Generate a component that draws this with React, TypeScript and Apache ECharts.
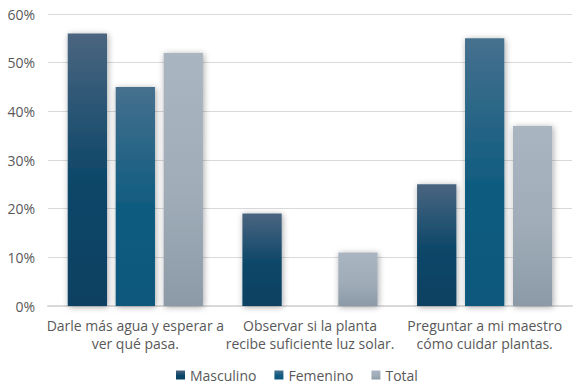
import React, { useEffect, useRef } from "react";
import * as echarts from "echarts";

const categories = [
  "Darle más agua y esperar a\nver qué pasa.",
  "Observar si la planta\nrecibe suficiente luz solar.",
  "Preguntar a mi maestro\ncómo cuidar plantas.",
];
const masculino = [56, 19, 25];
const femenino = [45, 0, 55];
const total = [52, 11, 37];
const yTicks = [0, 10, 20, 30, 40, 50, 60];

const grad = (top: string, mid: string, bottom: string) =>
  new echarts.graphic.LinearGradient(0, 0, 0, 1, [
    { offset: 0, color: top },
    { offset: 0.55, color: mid },
    { offset: 1, color: bottom },
  ]);

export default function App() {
  const ref = useRef<HTMLDivElement>(null);
  useEffect(() => {
    if (!ref.current) return;
    const chart = echarts.init(ref.current, undefined, { renderer: "svg" });
    const font = "'Open Sans', 'Noto Sans', sans-serif";
    const shadow = { shadowBlur: 6, shadowColor: "rgba(0,0,0,0.35)", shadowOffsetX: 1, shadowOffsetY: 1 };
    chart.setOption({
      animation: false,
      textStyle: { fontFamily: font },
      grid: { left: 48, right: 6, top: 14, bottom: 86, containLabel: false },
      legend: {
        bottom: 5,
        left: 171,
        itemWidth: 9,
        itemHeight: 9,
        itemGap: 18,
        icon: "rect",
        textStyle: { color: "#595959", fontSize: 14, fontFamily: font },
        data: ["Masculino", "Femenino", "Total"],
      },
      xAxis: {
        type: "category",
        data: categories,
        axisTick: { show: false },
        axisLine: { lineStyle: { color: "#d9d9d9", width: 2 } },
        axisLabel: {
          color: "#595959",
          fontSize: 14,
          lineHeight: 18,
          margin: 10,
          interval: 0,
          fontFamily: font,
        },
      },
      yAxis: {
        type: "value",
        min: 0,
        max: 60,
        interval: 10,
        axisLine: { show: false },
        axisTick: { show: false },
        splitLine: { lineStyle: { color: "#d9d9d9", width: 1 } },
        axisLabel: {
          color: "#595959",
          fontSize: 14,
          margin: 13,
          fontFamily: font,
          formatter: (v: number) => (yTicks.includes(v) ? v + "%" : ""),
        },
      },
      series: [
        {
          name: "Masculino",
          type: "bar",
          data: masculino,
          barWidth: "22.5%",
          barGap: "22%",
          itemStyle: { color: grad("#4a6580", "#0b4668", "#074163"), ...shadow },
        },
        {
          name: "Femenino",
          type: "bar",
          data: femenino,
          barWidth: "22.5%",
          barGap: "22%",
          itemStyle: { color: grad("#46708e", "#0f5c80", "#0c587c"), ...shadow },
        },
        {
          name: "Total",
          type: "bar",
          data: total,
          barWidth: "22.5%",
          barGap: "22%",
          itemStyle: { color: grad("#a9b5c0", "#a0adb9", "#8c9aa7"), ...shadow },
        },
      ],
    });
    return () => chart.dispose();
  }, []);
  return <div ref={ref} style={{ width: 578, height: 392, position: "absolute", left: 0, top: 0 }} />;
}
